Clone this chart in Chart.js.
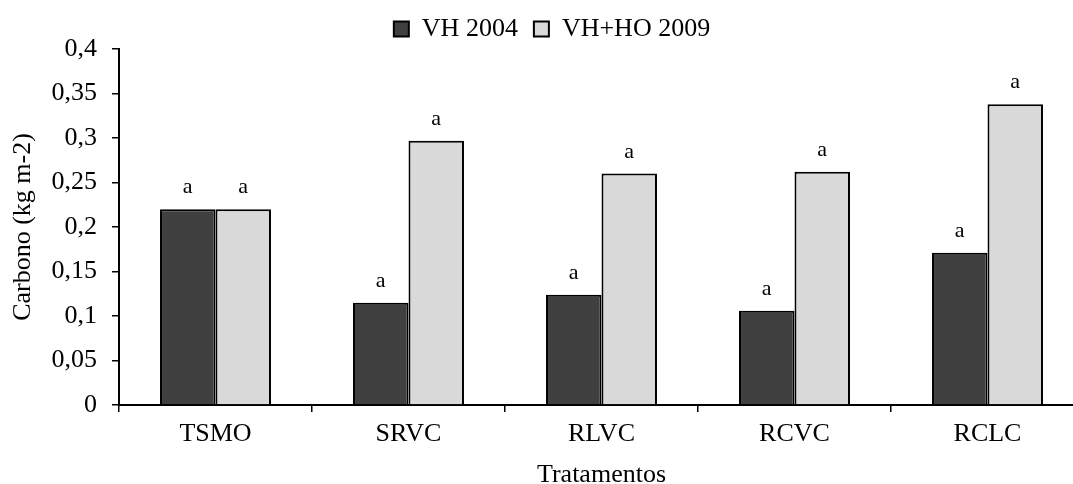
<!DOCTYPE html>
<html lang="pt-BR">
<head>
  <meta charset="UTF-8" />
  <title>Carbono por tratamento</title>
  <script src="https://cdn.jsdelivr.net/npm/chart.js"></script>
  <style>
    body {
      margin: 0;
      background: #fff;
      overflow: hidden;
    }
    #wrap {
      width: 1084px;
      height: 484px;
      position: relative;
    }
  </style>
</head>
<body>
  <div id="wrap"><canvas id="carbonoChart"></canvas></div>

  <script>
    const tratamentos = ["TSMO", "SRVC", "RLVC", "RCVC", "RCLC"];
    const vh2004 = [0.22, 0.115, 0.124, 0.106, 0.171];
    const vhHo2009 = [0.22, 0.297, 0.26, 0.262, 0.338];
    const letras2004 = ["a", "a", "a", "a", "a"];
    const letras2009 = ["a", "a", "a", "a", "a"];
    const yTickLabels = ["0", "0,05", "0,1", "0,15", "0,2", "0,25", "0,3", "0,35", "0,4"];

    const fonte = { family: "'Liberation Serif', 'Times New Roman', serif", size: 26 };

    // letras de significância acima das barras
    const letrasPlugin = {
      id: "letras",
      afterDatasetsDraw(chart) {
        const ctx = chart.ctx;
        const letras = [letras2004, letras2009];
        ctx.save();
        ctx.font = "22px 'Liberation Serif', 'Times New Roman', serif";
        ctx.fillStyle = "#000";
        ctx.textAlign = "center";
        ctx.textBaseline = "alphabetic";
        chart.data.datasets.forEach((ds, i) => {
          chart.getDatasetMeta(i).data.forEach((bar, j) => {
            ctx.fillText(letras[i][j], bar.x, bar.y - 16);
          });
        });
        ctx.restore();
      }
    };

    // empurra a legenda um pouco para a direita
    const legendaShift = {
      id: "legendaShift",
      afterLayout(chart) {
        chart.legend.left += 10;
        chart.legend.right += 10;
      }
    };

    new Chart(document.getElementById("carbonoChart"), {
      type: "bar",
      data: {
        labels: tratamentos,
        datasets: [
          {
            label: "VH 2004",
            data: vh2004,
            backgroundColor: "#404040",
            borderColor: "#000",
            borderWidth: 2,
            barPercentage: 1,
            categoryPercentage: 0.575
          },
          {
            label: "VH+HO 2009",
            data: vhHo2009,
            backgroundColor: "#d9d9d9",
            borderColor: "#000",
            borderWidth: 2,
            barPercentage: 1,
            categoryPercentage: 0.575
          }
        ]
      },
      options: {
        responsive: true,
        maintainAspectRatio: false,
        animation: false,
        layout: { padding: 0 },
        plugins: {
          tooltip: { enabled: false },
          legend: {
            position: "top",
            maxHeight: 49,
            labels: {
              boxWidth: 15,
              boxHeight: 15,
              padding: 16,
              color: "#000",
              font: fonte
            }
          }
        },
        scales: {
          x: {
            afterFit(scale) { scale.height = 79; },
            grid: {
              display: true,
              drawOnChartArea: false,
              drawTicks: true,
              tickLength: 7,
              color: "#000",
              lineWidth: 1.5
            },
            border: { display: true, color: "#000", width: 2 },
            ticks: { color: "#000", font: fonte, padding: 7 },
            title: {
              display: true,
              text: "Tratamentos",
              color: "#000",
              font: { family: fonte.family, size: 26, lineHeight: 0.7 },
              padding: 0
            }
          },
          y: {
            min: 0,
            max: 0.4,
            afterFit(scale) { scale.width = 119; },
            grid: {
              display: true,
              drawOnChartArea: false,
              drawTicks: true,
              tickLength: 7,
              color: "#000",
              lineWidth: 1.5
            },
            border: { display: true, color: "#000", width: 2 },
            ticks: {
              stepSize: 0.05,
              color: "#000",
              font: fonte,
              padding: 15,
              callback: (v, i) => yTickLabels[i]
            },
            title: {
              display: true,
              text: "Carbono (kg m-2)",
              color: "#000",
              font: fonte,
              padding: { top: 8, bottom: 0 }
            }
          }
        }
      },
      plugins: [letrasPlugin, legendaShift]
    });
  </script>
</body>
</html>
